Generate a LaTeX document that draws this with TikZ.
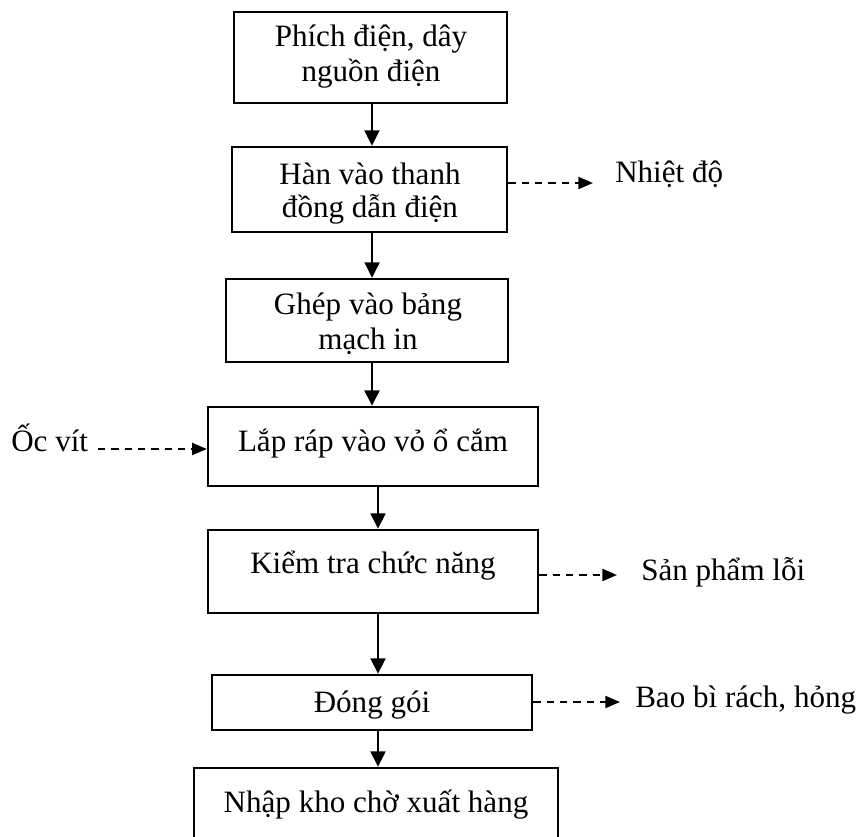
\documentclass[tikz,border=0pt]{standalone}
\usepackage{fontspec}
\setmainfont{Liberation Serif}
\usetikzlibrary{arrows.meta}
\begin{document}
\begin{tikzpicture}[x=0.75pt,y=-0.75pt,
  stepbox/.style={draw, line width=1.8pt, rectangle, inner sep=0pt},
  lbl/.style={inner sep=0pt, font=\fontsize{23.3}{26}\selectfont},
  flow/.style={line width=1.8pt, -{Triangle[length=11.5pt,width=11pt]}},
  side/.style={line width=1.6pt, dash pattern=on 5.5pt off 4.5pt,
               -{Triangle[length=11pt,width=9pt]}}]
\useasboundingbox (0,0) rectangle (860,837);
\clip (0,0) rectangle (860,837);
\fill[white] (0,0) rectangle (860,837);

% process steps
\node[stepbox, minimum width=204.75pt, minimum height=68.25pt] (b1) at (370.5,57.5) {};
\node[stepbox, minimum width=206.25pt, minimum height=63.75pt] (b2) at (369.5,189.5) {};
\node[stepbox, minimum width=211.5pt,  minimum height=62.25pt] (b3) at (367,320.5) {};
\node[stepbox, minimum width=247.5pt,  minimum height=59.25pt] (b4) at (373,446.5) {};
\node[stepbox, minimum width=247.5pt,  minimum height=62.25pt] (b5) at (373,571.5) {};
\node[stepbox, minimum width=240pt,    minimum height=41.25pt] (b6) at (372,702.5) {};
\node[stepbox, minimum width=273pt,    minimum height=55.5pt]  (b7) at (376,805) {};

% step texts
\node[lbl, anchor=base] (t1a) at (371,47)  {Phích điện, dây};
\node[lbl, anchor=base] (t1b) at (371,82)  {nguồn điện};
\node[lbl, anchor=base] (t2a) at (370,185) {Hàn vào thanh};
\node[lbl, anchor=base] (t2b) at (370,218) {đồng dẫn điện};
\node[lbl, anchor=base] (t3a) at (368,315) {Ghép vào bảng};
\node[lbl, anchor=base] (t3b) at (368,350) {mạch in};
\node[lbl, anchor=base] (t4)  at (373,452) {Lắp ráp vào vỏ ổ cắm};
\node[lbl, anchor=base] (t5)  at (373,573) {Kiểm tra chức năng};
\node[lbl, anchor=base] (t6)  at (372,712) {Đóng gói};
\node[lbl, anchor=base] (t7)  at (376,812) {Nhập kho chờ xuất hàng};

% side inputs and outputs
\node[lbl, anchor=base west] (s1) at (615,183) {Nhiệt độ};
\node[lbl, anchor=base west] (s2) at (11,452)  {Ốc vít};
\node[lbl, anchor=base west] (s3) at (641,580) {Sản phẩm lỗi};
\node[lbl, anchor=base west] (s4) at (635,707) {Bao bì rách, hỏng};

\coordinate (e1) at (593,183);
\coordinate (e2) at (98,449);
\coordinate (e3) at (617,575);
\coordinate (e4) at (620,702);

% main flow
\draw[flow] ([xshift=1.1pt]b1.south) -- ([xshift=1.1pt]b1.south |- b2.north);
\draw[flow] ([xshift=1.9pt]b2.south) -- ([xshift=1.9pt]b2.south |- b3.north);
\draw[flow] ([xshift=3.75pt]b3.south) -- ([xshift=3.75pt]b3.south |- b4.north);
\draw[flow] ([xshift=3.75pt]b4.south) -- ([xshift=3.75pt]b4.south |- b5.north);
\draw[flow] ([xshift=3.75pt]b5.south) -- ([xshift=3.75pt]b5.south |- b6.north);
\draw[flow] ([xshift=4.5pt]b6.south) -- ([xshift=4.5pt]b6.south |- b7.north);

% dashed side arrows
\draw[side] (b2.east |- e1) -- (e1);
\draw[side] (e2) -- (b4.west |- e2);
\draw[side] (b5.east |- e3) -- (e3);
\draw[side] (b6.east |- e4) -- (e4);
\end{tikzpicture}
\end{document}
